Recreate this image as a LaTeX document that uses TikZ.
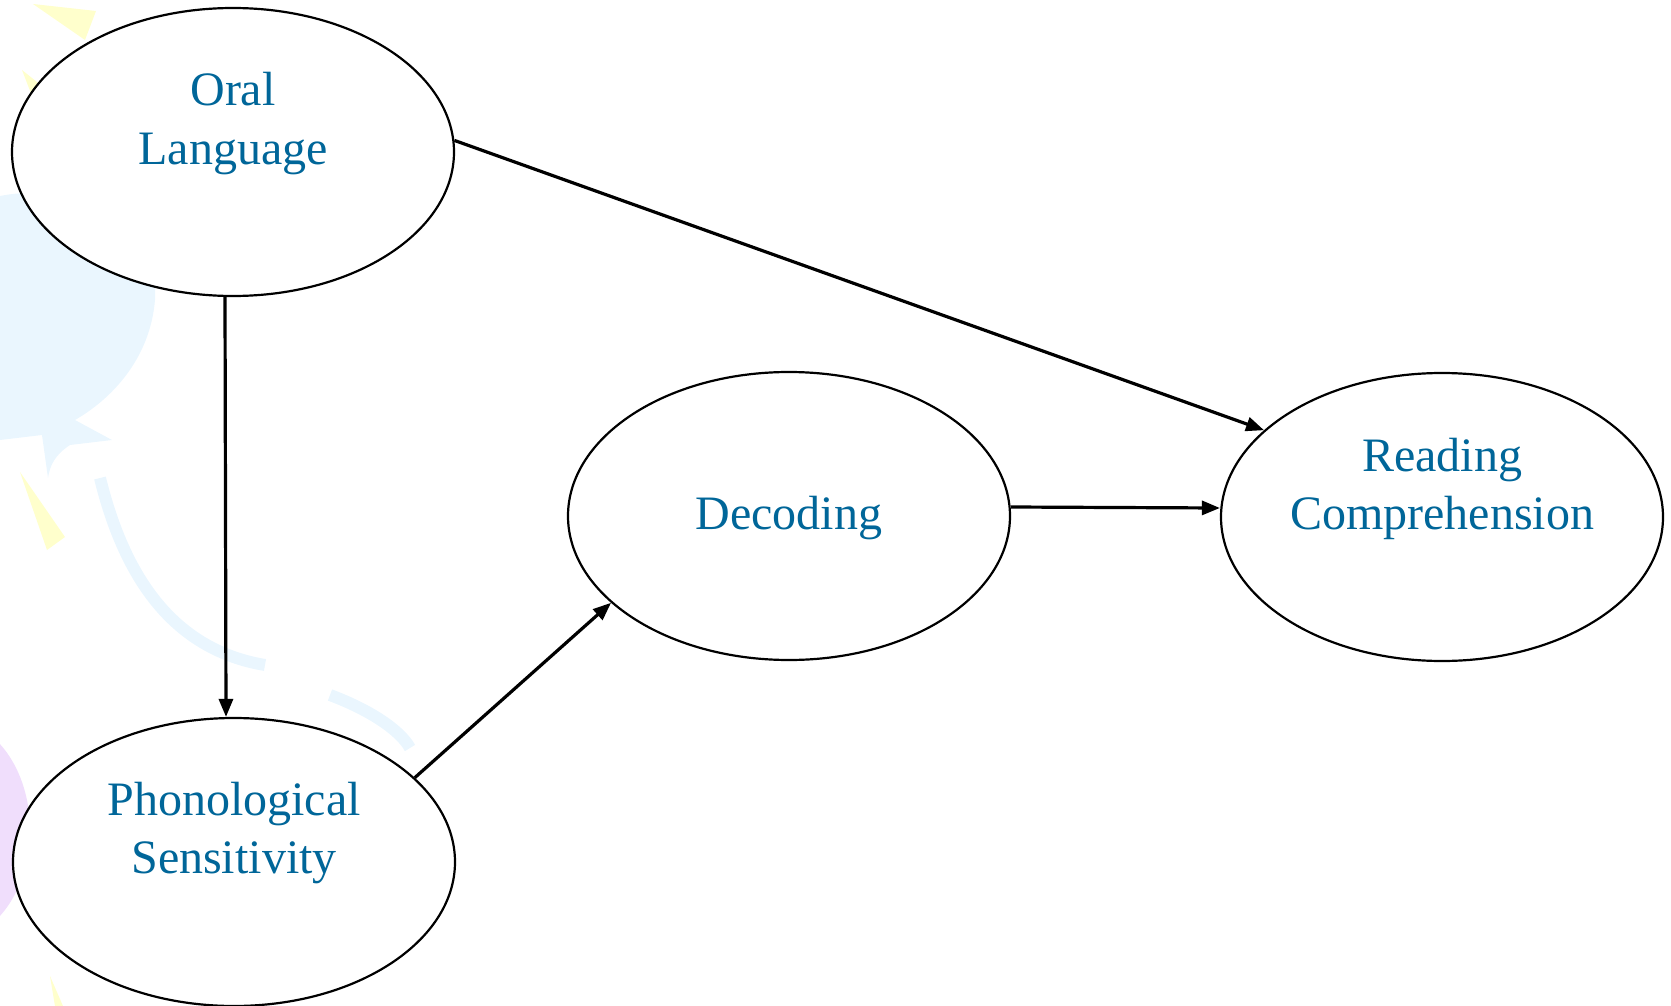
\documentclass[tikz,border=0pt]{standalone}
\usepackage{fontspec}
\setmainfont{Liberation Serif}
\usetikzlibrary{arrows.meta,shapes.geometric}
\definecolor{textblue}{RGB}{0,102,153}
\definecolor{bgblue}{RGB}{234,246,254}
\definecolor{bgyellow}{RGB}{255,255,204}
\definecolor{bgpurple}{RGB}{240,222,252}
\tikzset{
  bubble/.style={ellipse, draw, line width=1.1pt, fill=white,
    minimum width=221pt, minimum height=144pt, inner sep=0pt},
  bubbletext/.style={anchor=base, align=center, text=textblue,
    font=\fontsize{24}{29}\selectfont},
  arr/.style={-{Triangle[length=9pt,width=7pt]}, line width=1.6pt}
}
\begin{document}
\begin{tikzpicture}[x=0.5pt,y=-0.5pt]
\useasboundingbox (0,0) rectangle (1671,1006);

% background
\fill[bgyellow] (33,4) -- (96,11) -- (85,40) -- cycle;
\fill[bgyellow] (22,70) -- (42,86) -- (32,96) -- cycle;
\fill[bgyellow] (20,472) -- (65,537) -- (47,550) -- cycle;
\fill[bgyellow] (50,976) -- (63,1006) -- (55,1006) -- cycle;
\fill[bgblue] (0,196) .. controls (80,180) and (160,230) .. (155,300)
  .. controls (150,360) and (110,400) .. (75,420) -- (112,440) -- (70,445)
  .. controls (55,455) and (50,465) .. (48,478) -- (42,435) -- (0,440) -- cycle;
\draw[bgblue,line width=6pt] (100,478) .. controls (125,580) and (175,650) .. (265,665);
\draw[bgblue,line width=6pt] (330,695) .. controls (370,710) and (400,730) .. (410,748);
\fill[bgpurple] (-50,830) ellipse (80 and 110);

% nodes
\node[bubble] (ol) at (233,152) {};
\node[bubble] (ps) at (234,862) {};
\node[bubble] (dc) at (789,516) {};
\node[bubble] (rc) at (1442,517) {};

\node[bubbletext] (oltext) at (233,164) {Oral\\Language};
\node[bubbletext] (pstext) at (234,873) {Phonological\\Sensitivity};
\node[bubbletext] (dctext) at (789,529) {Decoding};
\node[bubbletext] (rctext) at (1442,529) {Reading\\Comprehension};

% arrows
\draw[arr] ([xshift=-4pt]ol.south) -- ([xshift=-4pt]ps.north);
\draw[arr] (ol.3) -- (rc.154);
\draw[arr] (ps.25) -- (dc.206);
\draw[arr] ([yshift=4.5pt]dc.east) -- ([yshift=4.5pt]rc.west);
\end{tikzpicture}
\end{document}
